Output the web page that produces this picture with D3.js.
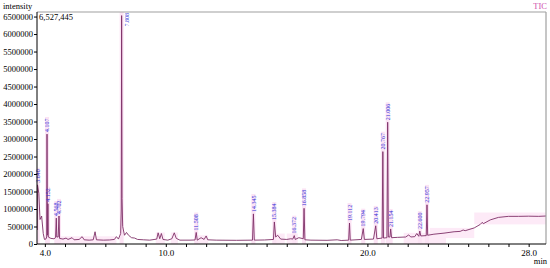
<!DOCTYPE html>
<html>
<head>
<meta charset="utf-8">
<title>TIC</title>
<style>
  body { margin: 0; background: #fff; }
  text { font-family: "Liberation Serif", "Times New Roman", serif; }
</style>
</head>
<body>
<div id="chart"></div>
<script src="https://d3js.org/d3.v7.min.js"></script>
<script>
// chromatogram trace (min, intensity)
var traceTime = [3.62, 3.635, 3.70, 3.76, 3.84, 3.92, 3.98, 4.05, 4.09, 4.107, 4.125, 4.14, 4.152, 4.17,
  4.30, 4.45, 4.53, 4.568, 4.59, 4.66, 4.702, 4.73, 4.90, 5.05, 5.15, 5.35, 5.45, 5.70, 5.85, 5.95,
  6.20, 6.40, 6.49, 6.56, 6.90, 7.20, 7.45, 7.55, 7.65, 7.76, 7.79, 7.808, 7.83, 7.86, 7.95, 8.05,
  8.15, 8.30, 8.45, 8.60, 8.90, 9.20, 9.55, 9.62, 9.70, 9.78, 9.86, 10.10, 10.30, 10.42, 10.52, 10.70,
  11.20, 11.45, 11.508, 11.56, 11.75, 11.90, 12.00, 12.08, 12.50, 13.50, 14.30, 14.345, 14.39, 14.90,
  15.34, 15.384, 15.45, 15.55, 15.70, 16.00, 16.20, 16.30, 16.372, 16.42, 16.60, 16.82, 16.858, 16.90,
  17.20, 18.00, 18.50, 18.70, 19.07, 19.112, 19.15, 19.70, 19.794, 19.85, 20.30, 20.413, 20.47, 20.73,
  20.767, 20.80, 20.97, 21.006, 21.04, 21.12, 21.154, 21.20, 21.50, 21.90, 22.05, 22.15, 22.35, 22.45,
  22.55, 22.60, 22.65, 22.92, 22.957, 22.99, 23.30, 23.80, 24.30, 24.60, 24.75, 24.85, 25.30, 25.60,
  25.70, 25.75, 26.10, 26.50, 27.00, 27.50, 28.00, 28.50, 28.86];
var traceValue = [400000, 1690000, 1450000, 700000, 800000, 300000, 130000, 140000, 200000, 3140000, 250000, 300000, 1150000, 200000,
  160000, 150000, 180000, 740000, 200000, 200000, 800000, 160000, 140000, 170000, 130000, 180000, 120000, 130000, 210000, 120000,
  110000, 120000, 350000, 120000, 110000, 115000, 130000, 210000, 140000, 300000, 1000000, 6527445, 1300000, 500000, 250000, 330000,
  250000, 180000, 170000, 130000, 120000, 110000, 140000, 320000, 150000, 300000, 130000, 110000, 150000, 320000, 160000, 110000,
  110000, 115000, 330000, 110000, 180000, 130000, 230000, 120000, 110000, 105000, 110000, 860000, 110000, 115000,
  130000, 630000, 200000, 250000, 140000, 130000, 150000, 140000, 240000, 130000, 180000, 150000, 1020000, 120000,
  110000, 105000, 120000, 100000, 110000, 600000, 110000, 130000, 440000, 130000, 140000, 520000, 150000, 170000,
  2640000, 170000, 180000, 3480000, 200000, 200000, 430000, 180000, 190000, 200000, 260000, 200000, 210000, 300000,
  220000, 370000, 230000, 240000, 1120000, 250000, 280000, 310000, 350000, 360000, 400000, 380000, 460000, 560000,
  620000, 580000, 690000, 760000, 790000, 790000, 795000, 790000, 800000];

// labelled peaks
var peakTime  = [3.640, 4.107, 4.152, 4.568, 4.702, 7.808, 11.508, 14.345, 15.384, 16.372, 16.858,
  19.112, 19.794, 20.413, 20.767, 21.006, 21.154, 22.600, 22.957];
var peakLabel = ["3.640", "4.107", "4.152", "4.568", "4.702", "7.808", "11.508", "14.345", "15.384", "16.372", "16.858",
  "19.112", "19.794", "20.413", "20.767", "21.006", "21.154", "22.600", "22.957"];
var peakValue = [1690000, 3140000, 1150000, 740000, 800000, 6527445, 330000, 860000, 630000, 240000, 1020000,
  600000, 440000, 520000, 2640000, 3480000, 430000, 370000, 1120000];

// integration areas along the baseline
var bandStart = [4.75, 9.50, 10.25, 11.60, 15.30, 16.00, 21.80, 23.10, 25.30];
var bandEnd   = [7.55, 9.95, 10.60, 12.10, 15.90, 16.55, 23.90, 25.30, 28.86];
var bandLow   = [0, 0, 0, 0, 0, 0, 0, 170000, 560000];
var bandHigh  = [220000, 330000, 330000, 250000, 300000, 300000, 320000, 460000, 900000];

var yTicks = [0, 500000, 1000000, 1500000, 2000000, 2500000, 3000000, 3500000, 4000000,
  4500000, 5000000, 5500000, 6000000, 6500000];
var xTickLabels = [4.0, 10.0, 20.0, 28.0];
var maxLabel = "6,527,445";

var W = 550, H = 268;
var pL = 37, pR = 546, pT = 12, pB = 244;

var svg = d3.select("#chart").append("svg")
    .attr("width", W)
    .attr("height", H);

var x = d3.scaleLinear().domain([3.61, 28.86]).range([pL, pR]);
var y = d3.scaleLinear().domain([0, 6630000]).range([pB, pT]);

svg.append("defs").append("clipPath").attr("id", "plot")
  .append("rect").attr("x", pL).attr("y", pT)
  .attr("width", pR - pL).attr("height", pB - pT);

var plot = svg.append("g").attr("clip-path", "url(#plot)");

// baseline bands
plot.selectAll(".band").data(bandStart).enter().append("rect")
    .attr("class", "band")
    .attr("x", function(d) { return x(d); })
    .attr("width", function(d, i) { return x(bandEnd[i]) - x(d); })
    .attr("y", function(d, i) { return y(bandHigh[i]); })
    .attr("height", function(d, i) { return y(bandLow[i]) - y(bandHigh[i]); })
    .attr("fill", "#fdeaf7");

// peak bands, up to the top of each label
var fs = 6;
function labelLen(s) { return s.length * fs * 0.47; }
function bandTop(i) { return Math.max(pT, y(peakValue[i]) - labelLen(peakLabel[i]) - 3); }
plot.selectAll(".pband").data(peakTime).enter().append("rect")
    .attr("class", "pband")
    .attr("x", function(d) { return x(d) - 2; })
    .attr("width", 4)
    .attr("y", function(d, i) { return bandTop(i); })
    .attr("height", function(d, i) { return pB - bandTop(i); })
    .attr("fill", "#fbe3f4");

var line = d3.line()
    .x(function(d, i) { return x(traceTime[i]); })
    .y(function(d) { return y(d); });

plot.append("path")
    .datum(traceValue)
    .attr("d", line)
    .attr("fill", "none")
    .attr("stroke", "#7e2f66")
    .attr("stroke-width", 0.9);

// peak labels
function clipped(i) { return y(peakValue[i]) - 2 - labelLen(peakLabel[i]) < pT; }
svg.selectAll(".plbl").data(peakTime).enter().append("text")
    .attr("class", "plbl")
    .attr("transform", function(d, i) {
      if (clipped(i)) return "translate(" + (x(d) + 5) + "," + (pT + 1) + ")rotate(-90)";
      return "translate(" + x(d) + "," + (y(peakValue[i]) - 2) + ")rotate(-90)";
    })
    .attr("dy", "0.35em")
    .attr("text-anchor", function(d, i) { return clipped(i) ? "end" : "start"; })
    .attr("fill", "#2f2fd8")
    .style("font-size", fs + "px")
    .text(function(d, i) { return peakLabel[i]; });

// frame
svg.append("line").attr("x1", pL).attr("x2", pR).attr("y1", pT).attr("y2", pT)
    .attr("stroke", "#a0a0a0").attr("stroke-width", 1.2);
svg.append("line").attr("x1", pR).attr("x2", pR).attr("y1", pT).attr("y2", pB)
    .attr("stroke", "#a0a0a0").attr("stroke-width", 1.2);

// axes
var yAxis = d3.axisLeft(y).tickValues(yTicks).tickSize(3).tickSizeOuter(0)
    .tickFormat(function(d) { return String(d); });
var gY = svg.append("g").attr("transform", "translate(" + pL + ",0)").call(yAxis);
gY.selectAll("text").style("font-size", "8.5px").attr("x", -4).attr("fill", "#000");

var xAxis = d3.axisBottom(x).tickValues(d3.range(4, 29, 1)).tickSize(3).tickSizeOuter(0)
    .tickFormat(function(d) { return xTickLabels.indexOf(d) >= 0 ? d.toFixed(1) : ""; });
var gX = svg.append("g").attr("transform", "translate(0," + pB + ")").call(xAxis);
gX.selectAll("text").style("font-size", "9px").attr("y", 6).attr("fill", "#000");
gX.select(".domain").attr("d", "M" + pL + ",0H" + pR);
gY.select(".domain").attr("d", "M0," + pT + "V" + pB);

svg.append("text").attr("x", 3).attr("y", 9).style("font-size", "8.5px").text("intensity");
svg.append("text").attr("x", 39).attr("y", 20).style("font-size", "8.5px").text(maxLabel);
svg.append("text").attr("x", 547).attr("y", 9).attr("text-anchor", "end")
    .attr("fill", "#cf4fae").style("font-size", "8.5px").text("TIC");
svg.append("text").attr("x", 547).attr("y", 264).attr("text-anchor", "end")
    .style("font-size", "8.5px").text("min");
</script>
</body>
</html>
